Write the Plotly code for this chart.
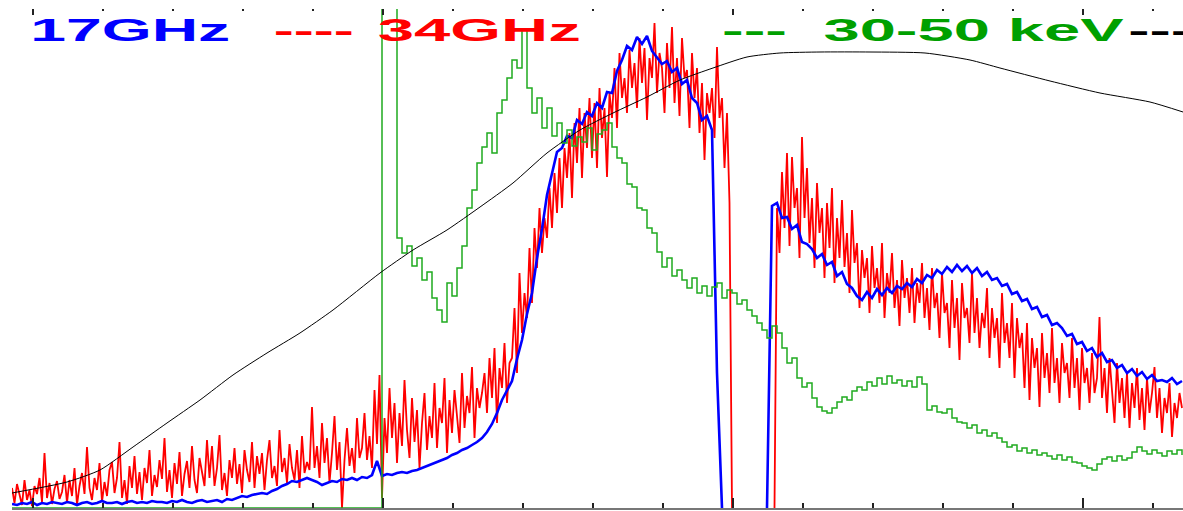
import json
import numpy as np
import plotly.graph_objects as go

# Time axis: seconds, ticks every 1 s (major every 5 s)
T0 = -0.3              # first sample time (s)
DT = 1.0 / 14.0        # 17 GHz / HXR sampling step (s)
DT_34 = 1.0 / 28.0     # 34 GHz sampling step (s)
T_MIN, T_MAX = -0.3, 16.4286
Y_MAX = 499.0          # normalised flux units
NA = None              # no data (receiver gap)

# 17 GHz radio flux
flux_17ghz = [
    4, 3, 5, 4, 6, 3, 5, 4, 6, 5,
    4, 6, 5, 3, 5, 6, 4, 5, 7, 5,
    5, 6, 4, 6, 7, 5, 6, 5, 7, 6,
    6, 5, 7, 6, 8, 6, 5, 7, 8, 6,
    7, 8, 6, 9, 8, 10, 12, 11, 13, 14,
    15, 14, 17, 19, 22, 24, 27, 26, 28, 30,
    28, 26, 23, 25, 27, 26, 29, 28, 30, 28,
    31, 30, 33, 47, 32, 34, 33, 35, 36, 35,
    37, 38, 40, 42, 44, 46, 48, 50, 53, 55,
    58, 60, 63, 66, 70, 76, 84, 95, 108, 118,
    127, 149, 168, 194, 215, 250, 279, 313, 334, 356,
    360, 372, 370, 388, 384, 396, 392, 405, 400, 416,
    415, 437, 448, 462, 458, 471, 464, 472, 457, 450,
    444, 447, 436, 440, 424, 428, 410, 405, 388, 392,
    378, 135, 0, NA, NA, NA, NA, NA, NA, NA,
    NA, 0, 302, 305, 290, 291, 279, 283, 266, 264,
    259, 250, 254, 243, 246, 232, 236, 224, 220, 212,
    208, 216, 210, 219, 213, 220, 215, 222, 219, 225,
    221, 229, 225, 233, 230, 238, 234, 241, 236, 243,
    237, 242, 235, 240, 232, 236, 228, 230, 222, 224,
    214, 216, 207, 209, 199, 201, 191, 193, 183, 185,
    180, 172, 174, 164, 166, 157, 160, 151, 155, 146,
    148, 140, 143, 135, 139, 132, 136, 129, 133, 127,
    128, 126, 130, 124, 127,
]

# 34 GHz radio flux (twice the sampling rate)
flux_34ghz = [
    # pre-flare
    20, 5, 24, 12, 3, 28, 8, 18, 2, 22, 14, 30, 6, 55, 10, 25, 4, 19, 27, 9,
    16, 33, 5, 28, 12, 40, 3, 22, 35, 14, 61, 20, 8, 30, 18, 45, 6, 26, 12, 38,
    46, 15, 30, 66, 10, 28, 4, 42, 20, 52, 14, 36, 8, 40, 25, 58, 12, 33, 21, 48,
    29, 70, 16, 38, 10, 45, 24, 56, 12, 34, 47, 20, 62, 28, 15, 50, 36, 22, 68, 30,
    62, 22, 40, 73, 18, 35, 12, 48, 30, 60, 24, 44, 15, 58, 38, 26, 66, 20, 52, 34,
    55, 18, 48, 68, 30, 42, 22, 78, 36, 50, 25, 64, 40, 28, 58, 20, 72, 35, 46, 38,
    101, 40, 62, 30, 85, 45, 70, 25, 55, 92, 38, 66, 0, 48, 80, 42, 60, 35, 90, 50,
    60, 95, 48, 72, 40, 118, 64, 133,
    # impulsive onset
    10, 90, 55, 120, 70, 105, 45, 95, 62, 128, 78, 50, 110, 66, 98, 40, 85, 115, 58, 92,
    70, 125, 60, 100, 85, 130, 55, 108, 75, 118, 92, 65, 135, 80, 112, 95, 141, 70, 120, 100,
    115, 135, 95, 150, 110, 160, 85, 140, 120, 165, 105, 145,
    # rise
    150, 200, 135, 235, 175, 215, 190, 260, 205, 280, 240, 300, 255, 290, 270, 320, 280, 335, 295, 350,
    # maximum
    300, 360, 330, 375, 310, 385, 345, 400, 330, 395, 360, 410, 350, 405, 340, 420, 370, 400, 331, 415,
    390, 440, 380, 455, 410, 430, 395, 458, 420, 445, 400, 470, 425, 460, 388, 450, 430, 485, 415, 455,
    440, 395, 465, 420, 481, 405, 450, 392, 470, 430, 438, 380, 455, 410, 440, 375, 425, 348, 415, 395,
    420, 370, 461, 390, 410, 340, 395, 305,
    # data gap
    0, NA, NA, NA, NA, NA, NA, NA, NA, NA, NA, NA, NA, NA, NA, NA, NA, 0,
    # decay
    300, 255, 336, 280, 355, 262, 351, 300, 320, 250, 371, 290, 340, 265, 310, 240, 325, 275, 300, 230,
    305, 260, 320, 225, 290, 250, 308, 241, 275, 215, 298, 245, 265, 200, 258, 230, 250, 195, 262, 220,
    240, 205, 265, 190, 235, 215, 255, 200, 228, 182, 248, 210, 230, 195, 240, 185, 225, 205, 245, 190,
    220, 178, 240, 200, 215, 170, 235, 195, 205, 160, 228, 180, 210, 148, 225, 190, 200, 165, 235, 175,
    210, 160, 195, 180, 220, 150, 200, 170, 190, 140, 215, 165, 185, 150, 205, 130, 190, 160, 175, 120,
    185, 108, 170, 140, 160, 101, 175, 130, 155, 115, 180, 125, 150, 105, 165, 135, 145, 110, 170, 120,
    150, 98, 160, 125, 140, 105, 155, 115, 130, 191, 110, 140, 95, 150, 120, 85, 145, 105, 130, 90,
    135, 80, 125, 100, 140, 88, 120, 78, 130, 95, 115, 141, 90, 120, 75, 110, 95, 125, 71, 105,
    90, 115, 100,
]

# 30-50 keV hard X-ray counts (off-scale values saturate the top of the frame)
hxr_30_50kev = [0] * 74 + [
    600, 600, 600, 270, 255, 262,
    242, 250, 228, 236, 210, 198, 186, 225, 212, 240,
    262, 300, 318, 345, 361, 375, 355, 395, 408, 430,
    448, 440, 478, 420, 395, 410, 380, 400, 372, 385,
    365, 378, 362, 371, 366, 380, 358, 374, 378, 385,
    361, 350, 345, 324, 321, 300, 298, 280, 275, 256,
    241, 250, 232, 238, 228, 220, 230, 215, 222, 212,
    221, 225, 210, 218, 215, 204, 208, 198, 192, 185,
    178, 170, 182, 175, 160, 145, 150, 130, 121, 125,
    110, 101, 97, 95, 100, 106, 111, 108, 117, 121,
    118, 126, 122, 130, 124, 132, 125, 128, 122, 127,
    121, 131, 124, 98, 102, 96, 95, 99, 90, 86,
    85, 80, 83, 75, 78, 72, 75, 70, 66, 61,
    63, 57, 60, 55, 58, 53, 55, 52, 49, 53,
    48, 51, 46, 45, 42, 40, 38, 44, 49, 51,
    47, 52, 48, 50, 56, 61, 57, 54, 58, 55,
    52, 57, 54, 58, 53,
]

# Smooth (integrated) curve
smooth_t = [-0.30, 0.486, 0.957, 1.429, 1.914, 2.386, 2.857, 3.343, 3.814,
            4.286, 4.957, 5.429, 5.914, 6.386, 6.857, 7.343, 7.814, 8.286,
            8.771, 9.243, 9.714, 10.2, 10.671, 11.243, 11.957, 12.743,
            13.386, 13.814, 14.529, 15.243, 15.957, 16.429]
smooth_v = [15, 26, 38, 61, 85, 108, 133, 155, 175, 198, 235, 258, 278, 301,
            325, 355, 378, 395, 411, 428, 440, 451, 455, 456, 456, 455, 448,
            440, 427, 415, 406, 396]

# Legend labels drawn across the top of the frame
legend_texts = ["17GHz", "----", "34GHz", "---", "30-50 keV", "----"]
legend_colors = ["#0000FF", "#FF0000", "#FF0000", "#00A000", "#00A000", "#000000"]
legend_left_px = [30, 273, 377, 722, 823, 1128]
legend_width_px = [200, 80, 203, 65, 300, 85]


def times(values, step):
    return T0 + step * np.arange(len(values))


fig = go.Figure()
fig.add_trace(go.Scatter(x=times(flux_34ghz, DT_34), y=flux_34ghz, mode="lines",
                         line=dict(color="#FF0000", width=1.8),
                         name="34GHz"))
fig.add_trace(go.Scatter(x=times(flux_17ghz, DT), y=flux_17ghz, mode="lines",
                         line=dict(color="#0000FF", width=2.6),
                         name="17GHz"))
fig.add_trace(go.Scatter(x=times(hxr_30_50kev, DT), y=hxr_30_50kev, mode="lines",
                         line=dict(color="#1FAA1F", width=1.5, shape="hv"),
                         name="30-50 keV"))
fig.add_trace(go.Scatter(x=smooth_t, y=smooth_v, mode="lines", xaxis="x2",
                         line=dict(color="#000000", width=1, shape="spline",
                                   smoothing=0.6),
                         name="integral"))

W, H = 1183, 511
ML, MR, MT, MB = 12, 0, 9, 3
plot_w = W - ML - MR
plot_h = H - MT - MB
LABEL_TOP_PX = 12      # top of the label boxes, page pixels

annotations = []
for txt, col, left, wid in zip(legend_texts, legend_colors, legend_left_px,
                               legend_width_px):
    cx = left + wid / 2.0
    annotations.append(dict(
        text=txt, xref="paper", yref="paper",
        x=(cx - ML) / plot_w, y=(H - MB - LABEL_TOP_PX) / plot_h,
        xanchor="center", yanchor="top", showarrow=False, borderpad=0,
        font=dict(family="Liberation Sans, Arial, sans-serif", size=31,
                  color=col, weight="bold"),
    ))

tick_style = dict(tickcolor="#222222", tickwidth=1.5)
fig.update_layout(
    width=W, height=H,
    margin=dict(l=ML, r=MR, t=MT, b=MB, autoexpand=False),
    paper_bgcolor="white", plot_bgcolor="white",
    showlegend=False,
    annotations=annotations,
    xaxis=dict(range=[T_MIN, T_MAX], showgrid=False, zeroline=False,
               showticklabels=False, ticks="inside", tick0=0, dtick=5,
               ticklen=10, showline=True, linecolor="#777777", linewidth=1.5,
               minor=dict(ticks="inside", tick0=0, dtick=1, ticklen=5,
                          **tick_style),
               **tick_style),
    xaxis2=dict(range=[T_MIN, T_MAX], overlaying="x", side="top", anchor="y",
                showgrid=False, zeroline=False, showticklabels=False,
                ticks="inside", tick0=0, dtick=5, ticklen=6, showline=False,
                minor=dict(ticks="inside", tick0=0, dtick=1, ticklen=2,
                           **tick_style),
                **tick_style),
    yaxis=dict(range=[0, Y_MAX], showgrid=False, zeroline=False,
               showticklabels=False, ticks="", showline=False),
)

# Stretch the legend words horizontally to their wide block lettering
post_js = """
var gd = document.getElementById('{plot_id}');
var widths = %s;
var nodes = gd.querySelectorAll('text.annotation-text');
nodes.forEach(function(el, i) {
  if (i < widths.length) {
    el.setAttribute('textLength', widths[i]);
    el.setAttribute('lengthAdjust', 'spacingAndGlyphs');
  }
});
""" % json.dumps(legend_width_px)

fig.write_html("out.html", post_script=post_js)
